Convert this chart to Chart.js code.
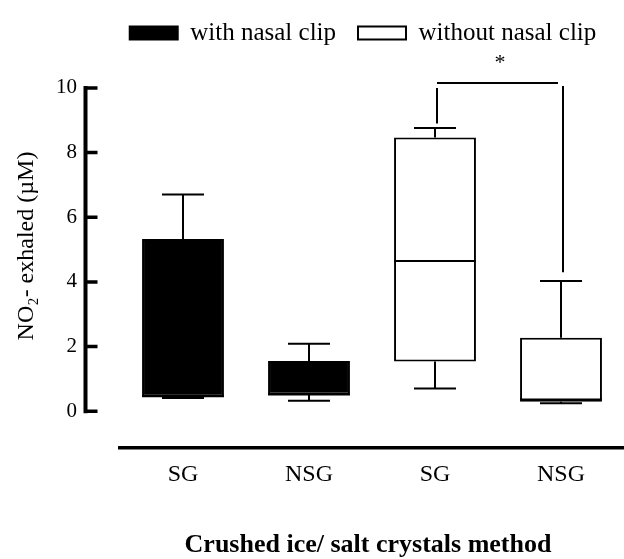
<!DOCTYPE html>
<html>
<head>
<meta charset="utf-8">
<script src="https://cdn.jsdelivr.net/npm/chart.js@4.4.0/dist/chart.umd.min.js"></script>
<style>
  html, body { margin: 0; padding: 0; background: #fff; }
  #wrap { width: 624px; height: 559px; position: relative; }
</style>
</head>
<body>
<div id="wrap"><canvas id="c" width="624" height="559"></canvas></div>
<script>
// ---- data ----
const categories = ['SG', 'NSG', 'SG', 'NSG'];
const seriesNames = ['with nasal clip', 'without nasal clip'];
const q1 = [0.46, 0.52, 1.54, 0.29];
const q3 = [5.33, 1.55, 8.47, 2.27];
const medians = [0.46, 0.52, 4.65, 0.36];
const whiskerMin = [0.41, 0.32, 0.70, 0.25];
const whiskerMax = [6.70, 2.09, 8.76, 4.03];
const seriesOfCategory = [0, 0, 1, 1];
const yTicks = [0, 2, 4, 6, 8, 10];
// significance bracket between category 2 and 3: [left bottom, top, right bottom]
const bracket = { from: 2, to: 3, leftBottom: 8.9, top: 10.15, rightBottom: 4.3, label: '*', labelY: 10.85 };
const yTitle = 'NO₂- exhaled (µM)';
const xTitle = 'Crushed ice/ salt crystals method';

const SERIF = '"Liberation Serif", "Times New Roman", serif';

const boxData = (s) => categories.map((_, i) => seriesOfCategory[i] === s ? [q1[i], q3[i]] : null);

// shift the legend row to the right (reference legend is centred right of the page centre)
const legendShift = {
  id: 'legendShift',
  afterLayout(chart) {
    if (chart.legend) { chart.legend.left += 51; chart.legend.right += 51; }
  }
};

const boxPlugin = {
  id: 'boxExtras',
  afterDatasetsDraw(chart) {
    const ctx = chart.ctx;
    const x = chart.scales.x, y = chart.scales.y;
    ctx.save();
    ctx.strokeStyle = '#000';
    ctx.lineCap = 'butt';
    categories.forEach((_, i) => {
      const cx = x.getPixelForValue(i);
      const capHalf = 21;
      ctx.lineWidth = 2;
      ctx.beginPath();
      ctx.moveTo(cx, y.getPixelForValue(q3[i]));
      ctx.lineTo(cx, y.getPixelForValue(whiskerMax[i]));
      ctx.moveTo(cx - capHalf, y.getPixelForValue(whiskerMax[i]));
      ctx.lineTo(cx + capHalf, y.getPixelForValue(whiskerMax[i]));
      ctx.moveTo(cx, y.getPixelForValue(q1[i]));
      ctx.lineTo(cx, y.getPixelForValue(whiskerMin[i]));
      ctx.moveTo(cx - capHalf, y.getPixelForValue(whiskerMin[i]));
      ctx.lineTo(cx + capHalf, y.getPixelForValue(whiskerMin[i]));
      ctx.stroke();
      const bw = 41;
      ctx.beginPath();
      ctx.moveTo(cx - bw, y.getPixelForValue(medians[i]));
      ctx.lineTo(cx + bw, y.getPixelForValue(medians[i]));
      ctx.stroke();
    });
    // bracket
    const lx = x.getPixelForValue(bracket.from) + 2;
    const rx = x.getPixelForValue(bracket.to) + 2;
    const ty = y.getPixelForValue(bracket.top);
    ctx.lineWidth = 2;
    ctx.beginPath();
    ctx.moveTo(lx, ty);
    ctx.lineTo(rx - 5, ty);
    ctx.moveTo(lx, ty + 5);
    ctx.lineTo(lx, y.getPixelForValue(bracket.leftBottom));
    ctx.moveTo(rx, ty + 3);
    ctx.lineTo(rx, y.getPixelForValue(bracket.rightBottom));
    ctx.stroke();
    ctx.fillStyle = '#000';
    ctx.font = '22px ' + SERIF;
    ctx.textAlign = 'center';
    ctx.textBaseline = 'middle';
    ctx.fillText(bracket.label, (lx + rx) / 2, y.getPixelForValue(bracket.labelY) + 3);
    // y axis line with ticks
    const ax = 85.5;
    ctx.lineWidth = 4;
    ctx.beginPath();
    ctx.moveTo(ax, y.getPixelForValue(0) + 2);
    ctx.lineTo(ax, y.getPixelForValue(10) - 2);
    ctx.stroke();
    ctx.lineWidth = 3.5;
    ctx.beginPath();
    yTicks.forEach(v => {
      const py = y.getPixelForValue(v);
      ctx.moveTo(ax, py);
      ctx.lineTo(ax + 12, py);
    });
    ctx.stroke();
    // axis titles
    ctx.font = '24px ' + SERIF;
    ctx.save();
    ctx.translate(27, 246);
    ctx.rotate(-Math.PI / 2);
    ctx.fillText(yTitle, 0, 0);
    ctx.restore();
    ctx.font = 'bold 26px ' + SERIF;
    ctx.fillText(xTitle, 368, 545);
    ctx.restore();
  }
};

new Chart(document.getElementById('c'), {
  type: 'bar',
  data: {
    labels: categories,
    datasets: [
      { label: seriesNames[0], data: boxData(0), backgroundColor: '#000', borderColor: '#000', borderWidth: 2, borderSkipped: false, grouped: false, barPercentage: 0.65, categoryPercentage: 1 },
      { label: seriesNames[1], data: boxData(1), backgroundColor: '#fff', borderColor: '#000', borderWidth: 2, borderSkipped: false, grouped: false, barPercentage: 0.65, categoryPercentage: 1 }
    ]
  },
  options: {
    responsive: false,
    animation: false,
    devicePixelRatio: 1,
    layout: { padding: { left: 0, right: 0, top: -7, bottom: 0 } },
    plugins: {
      legend: {
        position: 'top',
        labels: { font: { family: SERIF, size: 25 }, color: '#000', boxWidth: 48, boxHeight: 13, padding: 22 }
      },
      tooltip: { enabled: false }
    },
    scales: {
      x: {
        type: 'category',
        offset: true,
        grid: { display: false, drawTicks: false },
        border: { display: true, color: '#000', width: 3.5 },
        ticks: { font: { family: SERIF, size: 24 }, color: '#000', padding: 12 },
        afterFit(s) { s.height = 111; }
      },
      y: {
        min: -1.138,
        max: 11.0,
        grid: { display: false, drawTicks: false },
        border: { display: false },
        ticks: { font: { family: SERIF, size: 21 }, color: '#000', padding: 43 },
        afterBuildTicks(s) { s.ticks = yTicks.map(v => ({ value: v })); },
        afterFit(s) { s.width = 120; }
      }
    }
  },
  plugins: [legendShift, boxPlugin]
});
</script>
</body>
</html>
